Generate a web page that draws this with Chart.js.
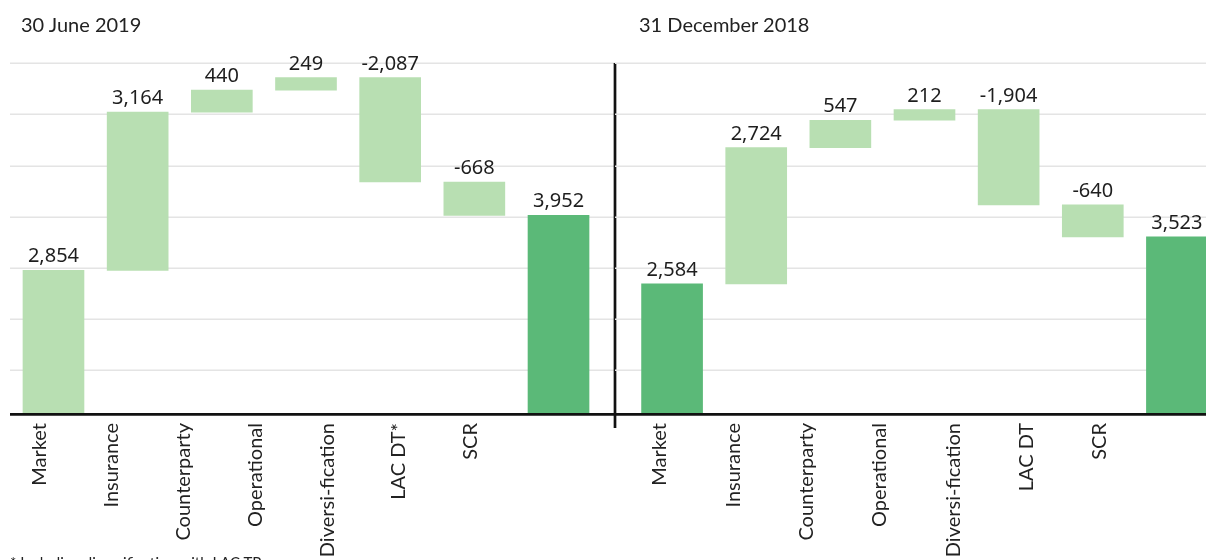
<!DOCTYPE html>
<html>
<head>
<meta charset="utf-8">
<script src="https://cdn.jsdelivr.net/npm/chart.js@4.4.1/dist/chart.umd.min.js"></script>
<style>
    html, body { margin: 0; padding: 0; background: #fff; }
    body { width: 1206px; height: 560px; overflow: hidden; position: relative; }
    canvas { position: absolute; top: 0; }
    #left { left: 0; }
    #right { left: 615px; }
    .title { position: absolute; top: 12px; font: 20px/24px Lato, sans-serif; color: #222; }
    .note { position: absolute; left: 10px; top: 553px; font: 15px/18px Lato, sans-serif; color: #222; white-space: nowrap; }
</style>
</head>
<body>
<canvas id="left" width="620" height="560"></canvas>
<canvas id="right" width="610" height="560"></canvas>
<div class="title" style="left:21px">30 June 2019</div>
<div class="title" style="left:639px">31 December 2018</div>
<div class="note">* Including diversification with LAC TP</div>
<script>
// values
const categories2019 = ['Market', 'Insurance', 'Counterparty', 'Operational', 'Diversi-fication', 'LAC DT*', 'SCR'];
const values2019 = [2854, 3164, 440, 249, -2087, -668, 3952];

const categories2018 = ['Market', 'Insurance', 'Counterparty', 'Operational', 'Diversi-fication', 'LAC DT', 'SCR'];
const values2018 = [2584, 2724, 547, 212, -1904, -640, 3523];

// horizontal guide lines and axis range
const gridValues = [870, 1890, 2910, 3930, 4950, 5970, 7000];
const yMax = 7500;

const LIGHT = '#b8dfb2';
const DARK = '#5bb978';

// first bar starts at zero, middle bars float, last bar is the total
function waterfall(values) {
    let run = 0;
    return values.map((v, i) => {
        if (i === values.length - 1) return [0, v];
        const start = run;
        run += v;
        return [start, run];
    });
}

const fmt = (v) => v.toLocaleString('en-US');

function makeChart(canvasId, cats, vals, colors, o) {
    const canvas = document.getElementById(canvasId);
    const areaW = canvas.width - o.padLeft - o.padRight;
    // label axis is a plain linear axis so the names can sit on their own spacing
    const lblMin = -(o.labelStart - o.padLeft) / o.labelStep;
    const lblMax = lblMin + areaW / o.labelStep;

    const panelDecor = {
        id: 'panelDecor',
        beforeDatasetsDraw(chart) {
            const ctx = chart.ctx;
            const y = chart.scales.y;
            ctx.save();
            ctx.strokeStyle = '#e4e4e4';
            ctx.lineWidth = 1.5;
            gridValues.forEach(g => {
                const py = Math.round(y.getPixelForValue(g)) + 0.25;
                ctx.beginPath();
                ctx.moveTo(o.gridFrom, py);
                ctx.lineTo(o.gridTo, py);
                ctx.stroke();
            });
            ctx.restore();
        },
        afterDatasetsDraw(chart) {
            const ctx = chart.ctx;
            const y = chart.scales.y;
            const base = y.getPixelForValue(0);
            ctx.save();
            ctx.strokeStyle = '#111';
            ctx.lineWidth = 2.7;
            ctx.beginPath();
            ctx.moveTo(o.gridFrom, base + 1.3);
            ctx.lineTo(o.gridTo, base + 1.3);
            ctx.stroke();
            if (o.divider) {
                ctx.beginPath();
                ctx.moveTo(o.divider, y.getPixelForValue(gridValues[gridValues.length - 1]));
                ctx.lineTo(o.divider, base + 15);
                ctx.stroke();
            }

            // value labels above each bar
            const meta = chart.getDatasetMeta(0);
            ctx.fillStyle = '#1e1e1e';
            ctx.font = '20px "Noto Sans", sans-serif';
            ctx.textAlign = 'center';
            ctx.textBaseline = 'alphabetic';
            meta.data.forEach((bar, i) => {
                const top = Math.min(bar.y, bar.base);
                ctx.fillText(fmt(vals[i]), bar.x, top - 8);
            });
            ctx.restore();
        }
    };

    return new Chart(canvas, {
        type: 'bar',
        data: {
            labels: cats,
            datasets: [{
                data: waterfall(vals),
                backgroundColor: colors,
                barThickness: 61,
                borderWidth: 0,
                borderSkipped: false
            }]
        },
        options: {
            responsive: false,
            animation: false,
            layout: { padding: { left: o.padLeft, right: o.padRight, top: 38, bottom: 0 } },
            plugins: { legend: { display: false }, tooltip: { enabled: false } },
            scales: {
                x: { display: false, offset: true },
                y: { display: false, min: 0, max: yMax },
                xl: {
                    type: 'linear',
                    position: 'bottom',
                    offset: false,
                    min: lblMin,
                    max: lblMax,
                    grid: { display: false, drawTicks: false, offset: false },
                    border: { display: false },
                    afterBuildTicks: (s) => { s.ticks = cats.map((_, i) => ({ value: i })); },
                    afterFit: (s) => { s.height = 147; },
                    ticks: {
                        autoSkip: false,
                        minRotation: 90,
                        maxRotation: 90,
                        padding: 10,
                        color: '#222',
                        font: { family: 'Lato', size: 20 },
                        callback: (v) => cats[v] !== undefined ? cats[v] : ''
                    }
                }
            }
        },
        plugins: [panelDecor]
    });
}

makeChart('left', categories2019, values2019,
    [LIGHT, LIGHT, LIGHT, LIGHT, LIGHT, LIGHT, DARK],
    { padLeft: 11.4, padRight: 19.4, labelStart: 40, labelStep: 71.8, gridFrom: 10, gridTo: 615, divider: 615 });

makeChart('right', categories2018, values2018,
    [DARK, LIGHT, LIGHT, LIGHT, LIGHT, LIGHT, DARK],
    { padLeft: 15, padRight: 6, labelStart: 45, labelStep: 73.3, gridFrom: 0, gridTo: 610 });
</script>
</body>
</html>
